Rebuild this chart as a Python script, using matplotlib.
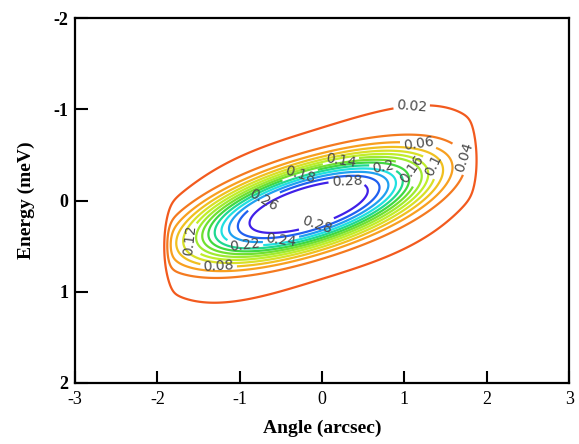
import numpy as np
import matplotlib
matplotlib.use('Agg')
import matplotlib.pyplot as plt

# contour levels and their colours (outer -> inner)
levels = [0.02, 0.04, 0.06, 0.08, 0.10, 0.12, 0.14, 0.16, 0.18, 0.20, 0.22, 0.24, 0.26, 0.28]
level_colors = ['#f25a1e', '#f47a20', '#f8a020', '#f0c020', '#d8e028', '#c0ee2a', '#a0ea30',
                '#70e030', '#40d840', '#20d890', '#20e0e0', '#20a0f0', '#2060f0', '#4020e8']

# shape of the distribution
core_peak = 0.26      # bright elliptical core
core_x0 = -0.17       # arcsec
core_aspect = 3.2     # arcsec per meV of the core ellipse
core_w = 0.44         # meV
core_pow = 3.5
core_slope = -0.245   # meV per arcsec (tilt of the core)
halo_peak = 0.045     # faint wide halo
halo_x0 = -0.03
halo_xw = 2.14
halo_xpow = 3.2
halo_yw = 0.92
halo_slope = -0.28    # meV per arcsec (tilt of the halo)
aperture = 1.9        # arcsec, nothing beyond this angle
ridge_y0 = 0.03       # meV at angle 0

x_ticks = [-3, -2, -1, 0, 1, 2, 3]
y_ticks = [-2, -1, 0, 1, 2]

# label value and where it sits in the reference (angle, energy)
label_levels = [0.02, 0.06, 0.04, 0.10, 0.16, 0.20, 0.14, 0.18, 0.28, 0.26, 0.28, 0.24, 0.22, 0.12, 0.08]
label_spots = [(1.09, -1.01), (1.19, -0.77), (1.74, -0.48), (1.47, -0.44), (1.21, -0.44),
               (0.77, -0.52), (0.22, -0.48), (-0.27, -0.29), (0.30, -0.19), (-0.75, -0.06),
               (-0.11, 0.14), (-0.51, 0.36), (-0.94, 0.52), (-1.52, 0.43), (-1.26, 0.78)]

xs = np.linspace(-3, 3, 500)
ys = np.linspace(-2, 2, 500)
X, Y = np.meshgrid(xs, ys)
Vc = Y - (ridge_y0 + core_slope * X)
Vh = Y - (ridge_y0 + halo_slope * X)
R = np.hypot((X - core_x0) / core_aspect, Vc)
core = core_peak * np.exp(-(R / core_w) ** core_pow)
halo = halo_peak * np.exp(-np.abs((X - halo_x0) / halo_xw) ** halo_xpow) * np.exp(-(Vh / halo_yw) ** 2)
clip = 1.0 / (1.0 + np.exp((np.abs(X) - aperture) / 0.03))
Z = (core + halo) * clip

fig = plt.figure(figsize=(5.79, 4.44), dpi=100)
ax = fig.add_axes([0.1295, 0.1374, 0.8535, 0.822])

# one contour set per level so each label lands on its own line
for lv, col in zip(levels, level_colors):
    cs = ax.contour(X, Y, Z, levels=[lv], colors=[col], linewidths=1.6)
    spots = [p for l, p in zip(label_levels, label_spots) if l == lv]
    if spots:
        txts = ax.clabel(cs, fmt='%g', fontsize=10, inline=True, inline_spacing=3, manual=spots)
        for t in txts:
            t.set_color('#4a4a4a')

ax.set_xlim(-3, 3)
ax.set_ylim(2, -2)
ax.set_xticks(x_ticks)
ax.set_yticks(y_ticks)
ax.set_xticklabels([str(v) for v in x_ticks], family='Liberation Serif', fontsize=13)
ax.set_yticklabels([str(v) for v in y_ticks], family='Liberation Serif', fontsize=13,
                   fontweight='bold')
ax.tick_params(direction='in', length=9, width=1.5, top=False, right=False)
ax.tick_params(axis='x', pad=6)
ax.tick_params(axis='y', pad=5)
for s in ax.spines.values():
    s.set_linewidth(1.6)

ax.set_xlabel('Angle (arcsec)', family='Liberation Serif', fontsize=14, fontweight='bold',
              labelpad=8)
ax.set_ylabel('Energy (meV)', family='Liberation Serif', fontsize=14, fontweight='bold',
              labelpad=13)

fig.savefig('out.png', dpi=100)
